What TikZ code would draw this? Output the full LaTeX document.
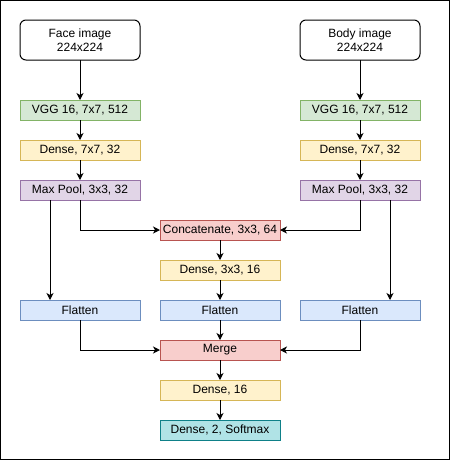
\documentclass[tikz,border=0pt]{standalone}
\usepackage{fontspec}
\setmainfont{Liberation Sans}
\usetikzlibrary{arrows.meta}
\definecolor{gfill}{HTML}{D5E8D4}\definecolor{gdraw}{HTML}{82B366}
\definecolor{yfill}{HTML}{FFF2CC}\definecolor{ydraw}{HTML}{D6B656}
\definecolor{pfill}{HTML}{E1D5E7}\definecolor{pdraw}{HTML}{9673A6}
\definecolor{rfill}{HTML}{F8CECC}\definecolor{rdraw}{HTML}{B85450}
\definecolor{bfill}{HTML}{DAE8FC}\definecolor{bdraw}{HTML}{6C8EBF}
\definecolor{tfill}{HTML}{B0E3E6}\definecolor{tdraw}{HTML}{0E8088}
\begin{document}
\begin{tikzpicture}[x=1pt,y=-1pt,
  every node/.style={font=\fontsize{12}{14.4}\selectfont, inner sep=0pt, outer sep=0pt, align=center},
  layer/.style={draw, line width=1pt, minimum width=120pt, minimum height=20pt},
  imgbox/.style={draw=black, fill=white, line width=1pt, rounded corners=6pt, minimum width=120pt, minimum height=40pt},
  green/.style={layer, fill=gfill, draw=gdraw},
  yellow/.style={layer, fill=yfill, draw=ydraw},
  purple/.style={layer, fill=pfill, draw=pdraw},
  red/.style={layer, fill=rfill, draw=rdraw},
  blue/.style={layer, fill=bfill, draw=bdraw},
  teal/.style={layer, fill=tfill, draw=tdraw},
  conn/.style={draw=black, line width=1pt, -{Stealth[length=7pt,width=7pt,inset=2pt]}}
]
\useasboundingbox (0,0) rectangle (451,461);
\draw[line width=1pt] (0.5,0.5) rectangle (449.5,459.5);

\node[imgbox] (face) at (80,40) {Face image\\224x224};
\node[imgbox] (body) at (360,40) {Body image\\224x224};

\node[green] (vggL) at (80,110) {VGG 16, 7x7, 512};
\node[green] (vggR) at (360,110) {VGG 16, 7x7, 512};
\node[yellow] (denL) at (80,150) {Dense, 7x7, 32};
\node[yellow] (denR) at (360,150) {Dense, 7x7, 32};
\node[purple] (maxL) at (80,190) {Max Pool, 3x3, 32};
\node[purple] (maxR) at (360,190) {Max Pool, 3x3, 32};

\node[red] (concat) at (220,230) {Concatenate, 3x3, 64};
\node[yellow] (den3) at (220,270) {Dense, 3x3, 16};
\node[blue] (flatC) at (220,310) {Flatten};
\node[blue] (flatL) at (80,310) {Flatten};
\node[blue] (flatR) at (360,310) {Flatten};
\node[red] (merge) at (220,350) {Merge};
\node[yellow] (den16) at (220,390) {Dense, 16};
\node[teal] (soft) at (220,430) {Dense, 2, Softmax};

\draw[conn] (face) -- (vggL);
\draw[conn] (body) -- (vggR);
\draw[conn] (vggL) -- (denL);
\draw[conn] (vggR) -- (denR);
\draw[conn] (denL) -- (maxL);
\draw[conn] (denR) -- (maxR);

\draw[conn] (maxL.south) |- (concat.west);
\draw[conn] (maxR.south) |- (concat.east);
\draw[conn] ([xshift=-30pt]maxL.south) -- ([xshift=-30pt]flatL.north);
\draw[conn] ([xshift=30pt]maxR.south) -- ([xshift=30pt]flatR.north);

\draw[conn] (concat) -- (den3);
\draw[conn] (den3) -- (flatC);
\draw[conn] (flatC) -- (merge);
\draw[conn] (flatL.south) |- (merge.west);
\draw[conn] (flatR.south) |- (merge.east);
\draw[conn] (merge) -- (den16);
\draw[conn] (den16) -- (soft);
\end{tikzpicture}
\end{document}
